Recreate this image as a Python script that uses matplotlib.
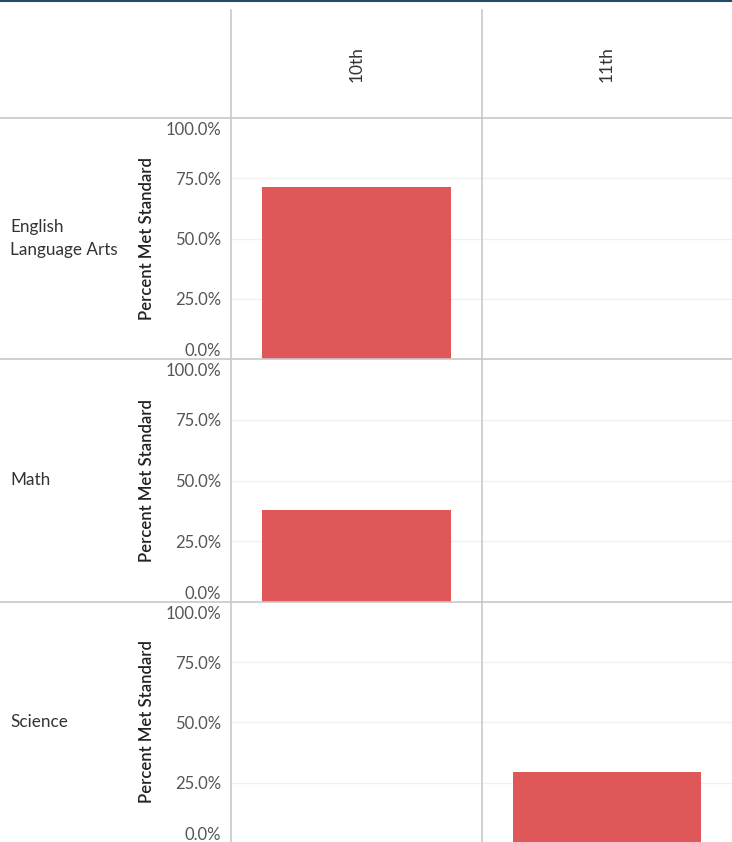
import matplotlib
matplotlib.use('Agg')
import matplotlib.pyplot as plt
from matplotlib.ticker import FuncFormatter
from matplotlib.transforms import ScaledTranslation

# data
grades = ['10th', '11th']
subjects = ['English\nLanguage Arts', 'Math', 'Science']
pct_10th = [0.712, 0.379, None]
pct_11th = [None, None, 0.296]
yticks = [0.0, 0.25, 0.5, 0.75, 1.0]

W, H = 732, 842
BAR = '#e05759'
LINE = '#c8c8c8'
GRID = '#f0f0f0'

plt.rcParams['font.family'] = ['Lato', 'DejaVu Sans']

fig = plt.figure(figsize=(W / 100, H / 100), dpi=100)

def px_axes(x0, y0, x1, y1):
  # pixel box (top-left origin) -> figure axes
  return fig.add_axes([x0 / W, 1 - y1 / H, (x1 - x0) / W, (y1 - y0) / H])

col_x = [231, 482, 732]
row_y = [118, 359, 602, 843]
series = [pct_10th, pct_11th]

for r, subj in enumerate(subjects):
  for c, grade in enumerate(grades):
    ax = px_axes(col_x[c], row_y[r], col_x[c + 1], row_y[r + 1])
    val = series[c][r]
    if val is not None:
      ax.bar([0], [val], width=0.75, color=BAR, zorder=3)
    ax.set_xlim(-0.5, 0.5)
    ax.set_ylim(0, 1.0)
    ax.set_yticks(yticks)
    for yt in yticks[1:-1]:
      ax.axhline(yt, color=GRID, lw=1, zorder=1)
    for s in ax.spines.values():
      s.set_visible(False)
    ax.set_xticks([])
    ax.patch.set_alpha(0)
    if c == 0:
      ax.tick_params(axis='y', length=0, pad=7, labelsize=12,
                     labelcolor='#555555')
      ax.yaxis.set_major_formatter(FuncFormatter(lambda v, p: '{:.1f}%'.format(v * 100)))
      labs = ax.get_yticklabels()
      labs[0].set_verticalalignment('bottom')
      labs[-1].set_verticalalignment('top')
      labs[-1].set_transform(labs[-1].get_transform() +
                             ScaledTranslation(0, -3 / 72, fig.dpi_scale_trans))
    else:
      ax.set_yticks([])
  mid = 1 - ((row_y[r] + min(row_y[r + 1], H)) / 2) / H
  fig.text(147 / W, mid, 'Percent Met Standard', rotation=90,
           ha='center', va='center', fontsize=12, color='#222222',
           fontweight='semibold')
  fig.text(10 / W, mid, subj, ha='left', va='center', fontsize=12.3,
           color='#333333', linespacing=1.55)

# column headers
for c, grade in enumerate(grades):
  fig.text(((col_x[c] + col_x[c + 1]) / 2) / W, 1 - 64 / H, grade,
           rotation=90, ha='center', va='center', fontsize=12.5,
           color='#333333')

# grid lines of the table
for x in col_x[:-1]:
  fig.add_artist(plt.Line2D([x / W, x / W], [1 - 10 / H, 0], color=LINE, lw=1.2))
for y in row_y[:-1]:
  fig.add_artist(plt.Line2D([0, 1], [1 - y / H, 1 - y / H], color=LINE, lw=1.2))
fig.add_artist(plt.Line2D([0, 1], [1 - 0.5 / H, 1 - 0.5 / H], color='#1f4e66', lw=1.5))

fig.savefig('out.png', dpi=100)
